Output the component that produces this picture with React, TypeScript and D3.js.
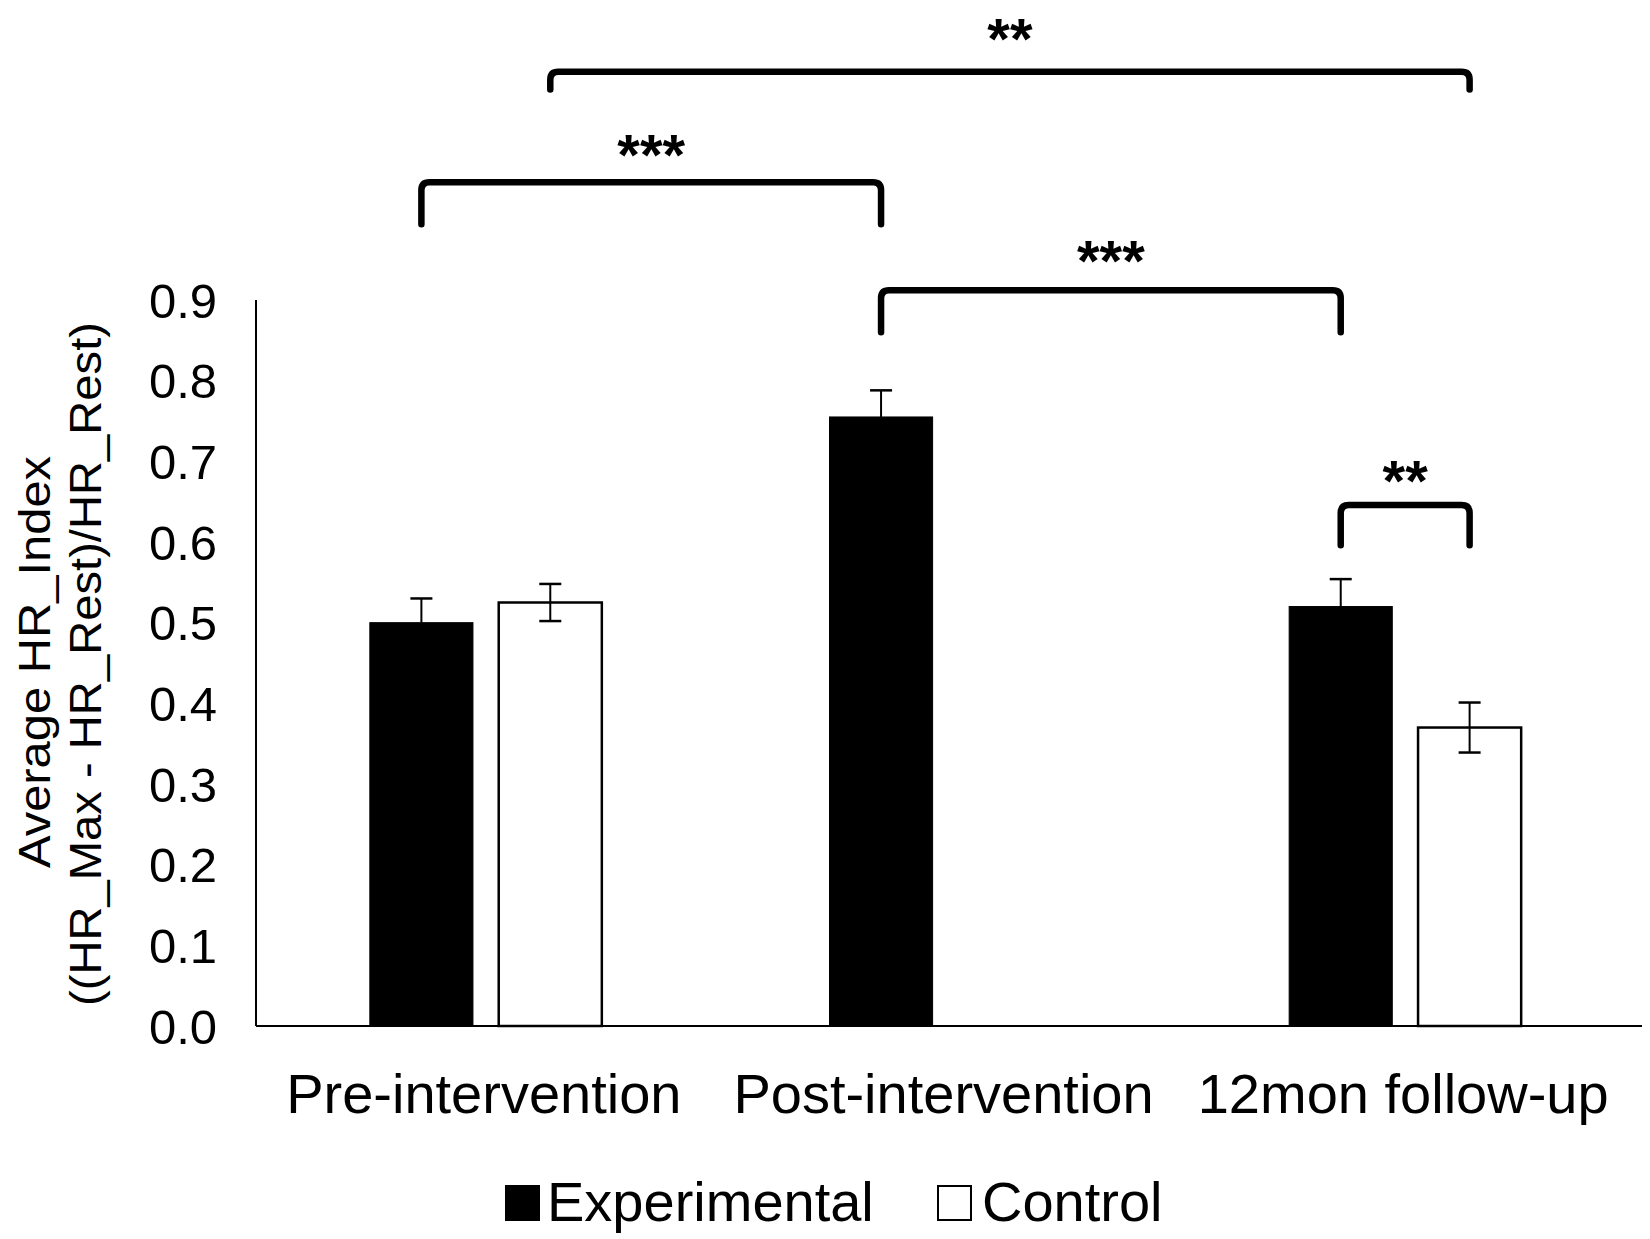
import { useEffect } from 'react';
import * as d3 from 'd3';

const CATEGORIES = ['Pre-intervention', 'Post-intervention', '12mon follow-up'];
const SERIES = ['Experimental', 'Control'];
// mean and error (SE) per category, null = no bar
const EXP_MEAN = [0.5, 0.755, 0.52];
const EXP_ERR = [0.03, 0.033, 0.034];
const CTRL_MEAN: (number | null)[] = [0.525, null, 0.37];
const CTRL_ERR: (number | null)[] = [0.023, null, 0.031];
const Y_TICKS = [0, 0.1, 0.2, 0.3, 0.4, 0.5, 0.6, 0.7, 0.8, 0.9];

// significance brackets: [category, series] endpoints, bar level, leg end level, label level
const BRACKETS = [
  { from: [0, 1], to: [2, 1], level: 1.183, leg: 1.161, text: 1.23, label: '**' },
  { from: [0, 0], to: [1, 0], level: 1.046, leg: 0.994, text: 1.087, label: '***' },
  { from: [1, 0], to: [2, 0], level: 0.912, leg: 0.86, text: 0.955, label: '***' },
  { from: [2, 0], to: [2, 1], level: 0.646, leg: 0.596, text: 0.683, label: '**' },
];

const W = 1650, H = 1239;
const FONT = '"Liberation Sans", Arial, Helvetica, sans-serif';

export default function App() {
  useEffect(() => {
    document.body.style.margin = '0';
  }, []);

  const x0 = d3.scaleBand().domain(CATEGORIES).range([256, 1635]);
  const bw0 = x0.bandwidth();
  const x1 = d3.scaleBand().domain(SERIES).range([bw0 / 2 - 116, bw0 / 2 + 116]).paddingInner(0.2);
  const y = d3.scaleLinear().domain([0, 0.9]).range([1026, 300]);

  const bars = CATEGORIES.flatMap((c, i) => [
    { cat: c, s: SERIES[0], v: EXP_MEAN[i], e: EXP_ERR[i] },
    { cat: c, s: SERIES[1], v: CTRL_MEAN[i], e: CTRL_ERR[i] },
  ]).filter((b) => b.v !== null) as { cat: string; s: string; v: number; e: number }[];

  const cx = (ci: number, si: number) => x0(CATEGORIES[ci])! + x1(SERIES[si])! + x1.bandwidth() / 2;
  const r = 8;

  return (
    <svg width={W} height={H} viewBox={`0 0 ${W} ${H}`} style={{ display: 'block', background: '#fff' }} fontFamily={FONT}>
      <rect width={W} height={H} fill="#fff" />

      {/* y title */}
      <g fontSize={45} fill="#000" textAnchor="middle">
        <text transform={`translate(50,662) rotate(-90)`} textLength={412} lengthAdjust="spacingAndGlyphs">Average HR_Index</text>
        <text transform={`translate(101,664) rotate(-90)`} textLength={684} lengthAdjust="spacingAndGlyphs">((HR_Max - HR_Rest)/HR_Rest)</text>
      </g>

      {/* y tick labels */}
      <g fontSize={49} fill="#000" textAnchor="end">
        {Y_TICKS.map((t) => (
          <text key={t} x={217} y={y(t)} dy="0.36em">{t.toFixed(1)}</text>
        ))}
      </g>

      {/* bars */}
      {bars.map((b) => {
        const bx = x0(b.cat)! + x1(b.s)!;
        const isExp = b.s === SERIES[0];
        return (
          <rect key={b.cat + b.s} x={bx} y={y(b.v)} width={x1.bandwidth()} height={y(0) - y(b.v)}
            fill={isExp ? '#000' : '#fff'} stroke="#000" strokeWidth={isExp ? 1 : 2.5} />
        );
      })}

      {/* error bars */}
      {bars.map((b) => {
        const mx = x0(b.cat)! + x1(b.s)! + x1.bandwidth() / 2;
        const isExp = b.s === SERIES[0];
        return (
          <g key={'e' + b.cat + b.s} stroke="#000" strokeWidth={2}>
            <line x1={mx} x2={mx} y1={y(b.v + b.e)} y2={isExp ? y(b.v) : y(b.v - b.e)} />
            <line x1={mx - 11} x2={mx + 11} y1={y(b.v + b.e)} y2={y(b.v + b.e)} strokeWidth={2.5} />
            {!isExp && <line x1={mx - 11} x2={mx + 11} y1={y(b.v - b.e)} y2={y(b.v - b.e)} strokeWidth={2.5} />}
          </g>
        );
      })}

      {/* axes */}
      <line x1={256} x2={256} y1={y(0.9)} y2={y(0)} stroke="#000" strokeWidth={2} />
      <line x1={256} x2={1642} y1={y(0)} y2={y(0)} stroke="#000" strokeWidth={2} />

      {/* x labels */}
      <g fontSize={56} fill="#000" textAnchor="middle">
        {CATEGORIES.map((c) => (
          <text key={c} x={x0(c)! + bw0 / 2 - 2} y={1113}>{c}</text>
        ))}
      </g>

      {/* significance brackets */}
      {BRACKETS.map((br, i) => {
        const xa = cx(br.from[0], br.from[1]);
        const xb = cx(br.to[0], br.to[1]);
        const yl = y(br.level), ye = y(br.leg);
        const d = `M${xa},${ye} L${xa},${yl + r} Q${xa},${yl} ${xa + r},${yl} L${xb - r},${yl} Q${xb},${yl} ${xb},${yl + r} L${xb},${ye}`;
        return (
          <g key={i}>
            <path d={d} fill="none" stroke="#000" strokeWidth={6.5} strokeLinecap="round" strokeLinejoin="round" />
            <text x={(xa + xb) / 2} y={y(br.text)} dy="0.44em" textAnchor="middle" fontSize={58} fontWeight="bold" fill="#000">{br.label}</text>
          </g>
        );
      })}

      {/* legend */}
      <g fontSize={56} fill="#000">
        <rect x={506} y={1186} width={33} height={34} fill="#000" stroke="#000" strokeWidth={2} />
        <text x={547} y={1221}>{SERIES[0]}</text>
        <rect x={938} y={1186} width={33} height={34} fill="#fff" stroke="#000" strokeWidth={2} />
        <text x={982} y={1221}>{SERIES[1]}</text>
      </g>
    </svg>
  );
}
